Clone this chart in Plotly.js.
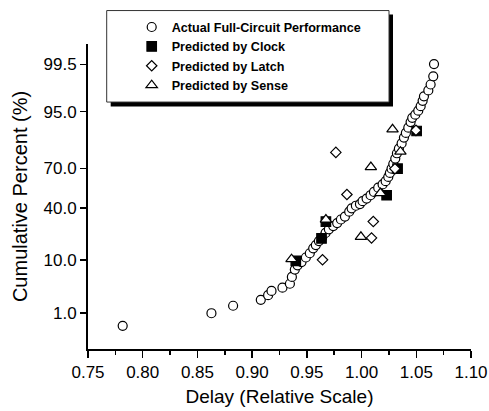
<!DOCTYPE html>
<html><head><meta charset="utf-8">
<script src="https://cdn.plot.ly/plotly-3.0.1.min.js"></script>
<style>html,body{margin:0;padding:0;background:#fff;}#chart{width:489px;height:411px;}</style>
</head><body><div id="chart"></div>
<script>
// ---- data ----
const actualDelay = [0.7817,0.8628,0.8826,0.9079,0.9146,0.9177,0.9277,0.9345,0.9363,0.9390,0.9415,0.9451,0.9491,0.9527,0.9558,0.9582,0.9610,0.9640,0.9671,0.9701,0.9741,0.9777,0.9811,0.9848,0.9887,0.9909,0.9948,0.9985,1.0009,1.0046,1.0082,1.0113,1.0152,1.0192,1.0220,1.0244,1.0259,1.0274,1.0290,1.0308,1.0323,1.0341,1.0366,1.0387,1.0405,1.0427,1.0448,1.0463,1.0491,1.0518,1.0540,1.0558,1.0570,1.0610,1.0631,1.0655,1.0662];
const actualPct = [0.49,0.98,1.44,1.93,2.40,2.91,3.36,3.99,5.30,7.04,8.24,9.26,10.86,12.51,14.62,16.16,18.14,20.07,22.72,24.89,26.96,28.94,31.42,33.51,37.11,39.59,41.60,42.86,45.15,47.20,49.80,52.39,55.70,58.24,60.76,63.95,66.82,69.81,73.10,76.40,79.48,81.94,84.54,87.14,88.95,90.79,92.48,93.60,94.36,95.19,96.02,96.84,97.43,98.05,98.54,99.04,99.51];
const clockDelay = [0.9399,0.9634,0.9674,1.0229,1.0329,1.0503];
const clockPct = [9.68,19.55,30.00,49.80,69.80,89.67];
const latchDelay = [0.9643,0.9765,0.9866,1.0107,1.0091,1.0305,1.0497];
const latchPct = [10.03,79.98,50.40,30.00,19.82,69.80,89.90];
const senseDelay = [0.9360,0.9674,0.9994,1.0085,1.0172,1.0283,1.0355];
const sensePct = [10.25,31.40,20.44,70.90,51.50,90.24,80.40];
const seriesNames = ['Actual Full-Circuit Performance','Predicted by Clock','Predicted by Latch','Predicted by Sense'];
const yTickPct = [1.0, 10.0, 40.0, 70.0, 95.0, 99.5];
const yTickText = ['1.0','10.0','40.0','70.0','95.0','99.5'];

// inverse normal CDF (probability-paper axis)
function probit(pct){
  const p = pct/100;
  const a=[-3.969683028665376e+01,2.209460984245205e+02,-2.759285104469687e+02,1.383577518672690e+02,-3.066479806614716e+01,2.506628277459239e+00];
  const b=[-5.447609879822406e+01,1.615858368580409e+02,-1.556989798598866e+02,6.680131188771972e+01,-1.328068155288572e+01];
  const c=[-7.784894002430293e-03,-3.223964580411365e-01,-2.400758277161838e+00,-2.549732539343734e+00,4.374664141464968e+00,2.938163982698783e+00];
  const d=[7.784695709041462e-03,3.224671290700398e-01,2.445134137142996e+00,3.754408661907416e+00];
  const pl=0.02425, ph=1-pl; let q,r;
  if(p<pl){q=Math.sqrt(-2*Math.log(p));return (((((c[0]*q+c[1])*q+c[2])*q+c[3])*q+c[4])*q+c[5])/((((d[0]*q+d[1])*q+d[2])*q+d[3])*q+1);}
  if(p<=ph){q=p-0.5;r=q*q;return (((((a[0]*r+a[1])*r+a[2])*r+a[3])*r+a[4])*r+a[5])*q/(((((b[0]*r+b[1])*r+b[2])*r+b[3])*r+b[4])*r+1);}
  q=Math.sqrt(-2*Math.log(1-p));return -(((((c[0]*q+c[1])*q+c[2])*q+c[3])*q+c[4])*q+c[5])/((((d[0]*q+d[1])*q+d[2])*q+d[3])*q+1);
}

const FONT = 'Arial, "Liberation Sans", Helvetica, sans-serif';
const W = 489, H = 411;
const M = {l:88, r:18, t:39, b:62};
const pw = W - M.l - M.r, ph = H - M.t - M.b;
const px2x = v => (v - M.l)/pw;
const px2y = v => (H - M.b - v)/ph;

function mk(symbol, size, fill){
  return {symbol:symbol, size:size, color:fill, line:{color:'#000', width:1.2}};
}
const traces = [
  {x:actualDelay, y:actualPct.map(probit), name:seriesNames[0], mode:'markers', type:'scatter', marker:mk('circle',9,'#fff')},
  {x:clockDelay, y:clockPct.map(probit), name:seriesNames[1], mode:'markers', type:'scatter', marker:mk('square',9.5,'#000')},
  {x:latchDelay, y:latchPct.map(probit), name:seriesNames[2], mode:'markers', type:'scatter', marker:mk('diamond',8,'#fff')},
  {x:senseDelay, y:sensePct.map(probit), name:seriesNames[3], mode:'markers', type:'scatter', marker:mk('triangle-up',10,'#fff')}
];

const layout = {
  width:W, height:H, margin:M,
  paper_bgcolor:'#fff', plot_bgcolor:'#fff',
  font:{family:FONT, color:'#000', size:17},
  showlegend:true,
  xaxis:{
    range:[0.75,1.10], tick0:0.75, dtick:0.05, tickformat:'.2f',
    ticks:'outside', ticklen:7, tickwidth:1.5, tickcolor:'#000',
    showline:true, linewidth:2, linecolor:'#000', showgrid:false, zeroline:false,
    minor:{ticks:'outside', dtick:0.025, ticklen:4, tickwidth:1.5, tickcolor:'#000', showgrid:false},
    tickfont:{size:17, family:FONT},
    title:{text:'Delay (Relative Scale)', font:{size:19, family:FONT}, standoff:8}
  },
  yaxis:{
    range:[-3.04,2.98], tickmode:'array', tickvals:yTickPct.map(probit), ticktext:yTickText,
    ticks:'outside', ticklen:6, tickwidth:1.5, tickcolor:'#000',
    showline:true, linewidth:2, linecolor:'#000', showgrid:false, zeroline:false,
    tickfont:{size:17, family:FONT},
    title:{text:'Cumulative Percent (%)', font:{size:20, family:FONT}, standoff:11}
  },
  legend:{
    x:px2x(131.7), y:px2y(6.8), xanchor:'left', yanchor:'top',
    bgcolor:'rgba(0,0,0,0)', borderwidth:0, traceorder:'normal',
    font:{size:12.6, family:FONT, weight:'bold', color:'#000'}
  },
  shapes:[
    {type:'rect', xref:'paper', yref:'paper', layer:'above',
     x0:px2x(110.7), x1:px2x(393), y0:px2y(102.5), y1:px2y(9),
     fillcolor:'#000', line:{width:0}},
    {type:'rect', xref:'paper', yref:'paper', layer:'above',
     x0:px2x(106.7), x1:px2x(389), y0:px2y(98), y1:px2y(5),
     fillcolor:'#fff', line:{color:'#333', width:1}}
  ]
};

Plotly.newPlot('chart', traces, layout, {staticPlot:true, displayModeBar:false});
</script>
</body></html>
